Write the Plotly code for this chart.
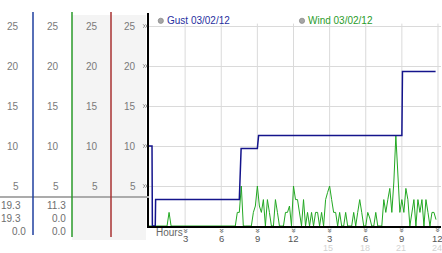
import plotly.graph_objects as go

W, H = 442, 253

# ---------------- data ----------------
y_ticks = [5, 10, 15, 20, 25]
y_tick_labels = ["5", "10", "15", "20", "25"]
x_ticks = [3, 6, 9, 12, 15, 18, 21, 24]
x_tick_labels = ["3", "6", "9", "12", "3", "6", "9", "12"]
x_ticks_24h = [15, 18, 21, 24]
x_tick_labels_24h = ["15", "18", "21", "24"]

gust_hours = [0.0, 0.25, 0.28, 0.52, 0.55, 7.50, 7.65, 9.00, 9.10, 21.00, 21.05, 23.80]
gust_mph = [10.0, 10.0, 0.0, 0.0, 3.3, 3.3, 9.7, 9.7, 11.3, 11.3, 19.3, 19.3]

# wind, one value every 10 minutes (6 per hour), hours 0..23
wind_mph = [
    0, 0, 0, 0, 0, 0,            # 0
    0, 0, 0, 0, 1.7, 0,          # 1
    0, 0, 0, 0, 0, 0,            # 2
    0, 0, 0, 0, 0, 0,            # 3
    0, 0, 0, 0, 0, 0,            # 4
    0, 0, 0, 0, 0, 0,            # 5
    0, 0, 0, 0, 0, 0,            # 6
    0, 0, 1.7, 1.7, 5.0, 0,      # 7
    0, 0, 0, 0, 1.7, 2.5,        # 8
    5.0, 2.5, 1.7, 3.3, 0, 3.3,  # 9
    1.7, 0, 0, 3.3, 1.7, 0,      # 10
    0, 0, 1.7, 1.7, 2.5, 0,      # 11
    5.0, 3.3, 3.3, 1.7, 0, 3.3,  # 12
    0, 1.7, 0, 1.7, 0, 1.7,      # 13
    1.7, 0, 1.7, 0, 3.3, 4.2,    # 14
    5.0, 3.3, 1.7, 1.7, 0, 1.7,  # 15
    0, 0, 1.7, 0, 0, 0,          # 16
    1.7, 0, 1.7, 3.3, 1.7, 0,    # 17
    0, 1.7, 1.0, 0, 0, 1.7,      # 18
    0, 0, 0, 3.3, 1.7, 3.3,      # 19
    4.7, 1.7, 5.5, 11.3, 7.2, 1.7,  # 20
    3.3, 1.7, 4.7, 3.3, 0, 1.7,  # 21
    3.3, 0, 3.3, 1.7, 3.3, 0,    # 22
    3.3, 1.7, 0, 1.7, 1.7, 0.8,  # 23
]
wind_step_h = 1 / 6
wind_hours = [i * wind_step_h for i in range(len(wind_mph))]

stats_gust = ["19.3", "19.3", "0.0"]
stats_wind = ["11.3", "0.0", "0.0"]
legend_labels = ["Gust 03/02/12", "Wind 03/02/12"]

# ---------------- styling helpers ----------------
FONT = "Liberation Sans"
GUST_C = "#14148c"
WIND_C = "#22a822"
MARK_C = "#7c7c7c"
Y_PX_PER_UNIT = 8.0


def px(x):
    return x / W


def py(y):
    return 1 - y / H


fig = go.Figure()
fig.add_trace(go.Scatter(x=wind_hours, y=wind_mph, mode="lines",
                         line=dict(color=WIND_C, width=1), hoverinfo="skip"))
fig.add_trace(go.Scatter(x=gust_hours, y=gust_mph, mode="lines",
                         line=dict(color=GUST_C, width=1.5), hoverinfo="skip"))

shapes = []
annotations = []

# left panel background of columns 3 & 4
shapes.append(dict(type="rect", xref="paper", yref="paper", x0=px(72), x1=px(146),
                   y0=py(240), y1=py(15), fillcolor="#f4f4f4", line=dict(width=0), layer="below"))
# horizontal separator above stats
shapes.append(dict(type="line", xref="paper", yref="paper", x0=px(0), x1=px(149),
                   y0=py(197), y1=py(197), line=dict(color="#ababab", width=2)))
# coloured column lines
for xx, col, yb in [(33, "#1f3f9f", 235), (72, "#2a9a2a", 237), (111, "#a83232", 237)]:
    shapes.append(dict(type="line", xref="paper", yref="paper", x0=px(xx), x1=px(xx),
                       y0=py(yb), y1=py(12), line=dict(color=col, width=1.5)))
# vertical grid lines
for t in x_ticks:
    shapes.append(dict(type="line", xref="x", yref="y", x0=t, x1=t, y0=0, y1=25.3,
                       line=dict(color="#dadada", width=1), layer="below"))

# left panel y labels
for right in [20, 60, 99, 137]:
    for v, lab in zip(y_ticks, y_tick_labels):
        annotations.append(dict(xref="paper", yref="y", x=px(right + 1), y=v, text=lab,
                                xanchor="right", yanchor="middle", showarrow=False,
                                font=dict(family=FONT, size=10, color="#7a7a7a")))
# small "»" tick marks next to the left axis (drawn as two chevrons)
hh = 1.6 / Y_PX_PER_UNIT
for v in y_ticks:
    for cx in (143.2, 145.6):
        path = (f"M {px(cx)} {v + hh} L {px(cx + 1.6)} {v} L {px(cx)} {v - hh}")
        shapes.append(dict(type="path", xref="paper", yref="y", path=path,
                           line=dict(color=MARK_C, width=1)))

# stats table
rows_y = [205, 218, 231.5]
gust_right = [22, 22, 27]
for i, (s, yy) in enumerate(zip(stats_gust, rows_y)):
    annotations.append(dict(xref="paper", yref="paper", x=px(gust_right[i] + 1), y=py(yy), text=s,
                            xanchor="right", yanchor="middle", showarrow=False,
                            font=dict(family=FONT, size=10, color="#6e6e6e")))
for s, yy in zip(stats_wind, rows_y):
    annotations.append(dict(xref="paper", yref="paper", x=px(68), y=py(yy), text=s,
                            xanchor="right", yanchor="middle", showarrow=False,
                            font=dict(family=FONT, size=10, color="#6e6e6e")))

# x labels
for t, lab in zip(x_ticks, x_tick_labels):
    annotations.append(dict(xref="x", yref="paper", x=t, y=py(238.5), text=lab,
                            xanchor="center", yanchor="middle", showarrow=False, borderpad=0,
                            font=dict(family=FONT, size=9.5, color="#555555")))
    annotations.append(dict(xref="x", yref="paper", x=t, y=py(230.5), text="<b>»</b>", textangle=90,
                            xanchor="center", yanchor="middle", showarrow=False, borderpad=0,
                            font=dict(family="DejaVu Sans", size=8, color=MARK_C)))
for t, lab in zip(x_ticks_24h, x_tick_labels_24h):
    annotations.append(dict(xref="x", yref="paper", x=t - 0.1, y=py(247.5), text=lab,
                            xanchor="center", yanchor="middle", showarrow=False, borderpad=0,
                            font=dict(family=FONT, size=9, color="#d2d2d2")))
annotations.append(dict(xref="paper", yref="paper", x=px(153.5), y=py(232), text="Hours",
                        xanchor="left", yanchor="middle", showarrow=False,
                        font=dict(family=FONT, size=10, color="#666666")))

# legend
for (cx, tx), lab, col in zip([(160.8, 164.5), (302, 305.5)], legend_labels, ["#1f2fa0", "#2a9c2a"]):
    shapes.append(dict(type="circle", xref="paper", yref="paper",
                       x0=px(cx - 2.6), x1=px(cx + 2.6), y0=py(20.8 + 2.6), y1=py(20.8 - 2.6),
                       fillcolor="#a6a6a6", line=dict(color="#8a8a8a", width=0.8)))
    annotations.append(dict(xref="paper", yref="paper", x=px(tx), y=py(20.8), text=lab,
                            xanchor="left", yanchor="middle", showarrow=False,
                            font=dict(family=FONT, size=10, color=col)))

fig.update_layout(
    width=W, height=H, margin=dict(l=0, r=0, t=0, b=0),
    paper_bgcolor="white", plot_bgcolor="white", showlegend=False,
    shapes=shapes, annotations=annotations,
    xaxis=dict(domain=[px(149), px(441)], range=[0, 24.25], showgrid=False, zeroline=False,
               showticklabels=False, ticks="", showline=True, linecolor="black", linewidth=2,
               fixedrange=True),
    yaxis=dict(domain=[py(226), py(13)], range=[0, 26.625], tickvals=y_ticks, showgrid=True,
               gridcolor="#dadada", gridwidth=1, zeroline=False, showticklabels=False, ticks="",
               showline=True, linecolor="black", linewidth=2, fixedrange=True),
)

fig.write_html("out.html", config={"displayModeBar": False})
